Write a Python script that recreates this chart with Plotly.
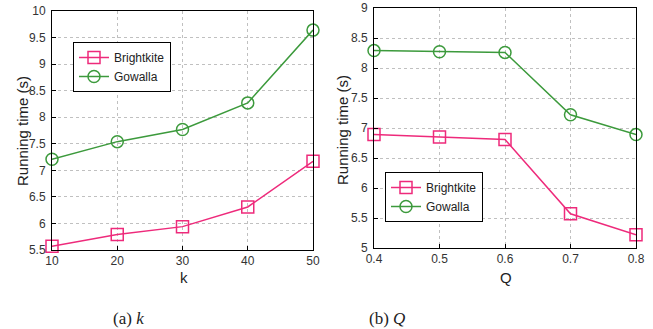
import plotly.graph_objects as go

k_vals = [10, 20, 30, 40, 50]
k_brightkite = [5.57, 5.79, 5.94, 6.31, 7.17]
k_gowalla = [7.21, 7.54, 7.77, 8.27, 9.64]

q_vals = [0.4, 0.5, 0.6, 0.7, 0.8]
q_brightkite = [6.89, 6.85, 6.81, 5.57, 5.22]
q_gowalla = [8.29, 8.27, 8.26, 7.22, 6.89]

pink = "#ee2a7b"
green = "#3c9a3c"
W, H = 653, 329

fig = go.Figure()

def add(x, y, name, color, symbol, xa, ya, leg):
    fig.add_trace(go.Scatter(
        x=x, y=y, name=name, mode="lines+markers",
        line=dict(color=color, width=1.5),
        marker=dict(symbol=symbol, size=12, color=color,
                    line=dict(color=color, width=1.5)),
        xaxis=xa, yaxis=ya, legend=leg, cliponaxis=False))

add(k_vals, k_brightkite, "Brightkite", pink, "square-open", "x", "y", "legend")
add(k_vals, k_gowalla, "Gowalla", green, "circle-open", "x", "y", "legend")
add(q_vals, q_brightkite, "Brightkite", pink, "square-open", "x2", "y2", "legend2")
add(q_vals, q_gowalla, "Gowalla", green, "circle-open", "x2", "y2", "legend2")

axis_common = dict(showline=True, mirror=True, linecolor="black", linewidth=1,
                   showgrid=True, gridcolor="#c0c0c0", griddash="dot", gridwidth=1,
                   ticks="inside", ticklen=4, tickcolor="black", zeroline=False,
                   automargin=False,
                   tickfont=dict(family="Liberation Sans", size=12, color="#333"))
yextra = dict(ticklabelstandoff=3)

title_font = dict(family="Liberation Sans", size=15, color="#222")

def ann(text, x, y, angle=0, font=title_font):
    return dict(text=text, x=x/W, y=1-y/H, xref="paper", yref="paper",
                xanchor="center", yanchor="middle", textangle=angle,
                showarrow=False, font=font)

cap_font = dict(family="Liberation Serif", size=17, color="#222")

fig.update_layout(
    width=W, height=H, margin=dict(l=0, r=0, t=0, b=0, autoexpand=False),
    paper_bgcolor="white", plot_bgcolor="white",
    font=dict(family="Liberation Sans", color="#222"),
    xaxis=dict(domain=[52/W, 313/W], range=[10, 50], tickvals=k_vals, **axis_common),
    yaxis=dict(domain=[1-250/H, 1-11/H], range=[5.5, 10], dtick=0.5,
               **axis_common, **yextra),
    xaxis2=dict(domain=[374/W, 636/W], range=[0.4, 0.8], tickvals=q_vals, anchor="y2",
                **axis_common),
    yaxis2=dict(domain=[1-248/H, 1-8/H], range=[5, 9], dtick=0.5, anchor="x2",
                **axis_common, **yextra),
    legend=dict(x=73/W, y=1-42/H, xanchor="left", yanchor="top",
                bordercolor="black", borderwidth=1, bgcolor="white",
                font=dict(size=12), tracegroupgap=0, itemwidth=30),
    legend2=dict(x=385/W, y=1-172/H, xanchor="left", yanchor="top",
                 bordercolor="black", borderwidth=1, bgcolor="white",
                 font=dict(size=12), tracegroupgap=0, itemwidth=30),
    showlegend=True,
    annotations=[
        ann("Running time (s)", 22, 131, -90),
        ann("Running time (s)", 342, 130, -90),
        ann("k", 184, 277),
        ann("Q", 506, 277),
        ann("(a) <i>k</i>", 128, 318, font=cap_font),
        ann("(b) <i>Q</i>", 387, 318, font=cap_font),
    ],
)

fig.write_html("out.html")
